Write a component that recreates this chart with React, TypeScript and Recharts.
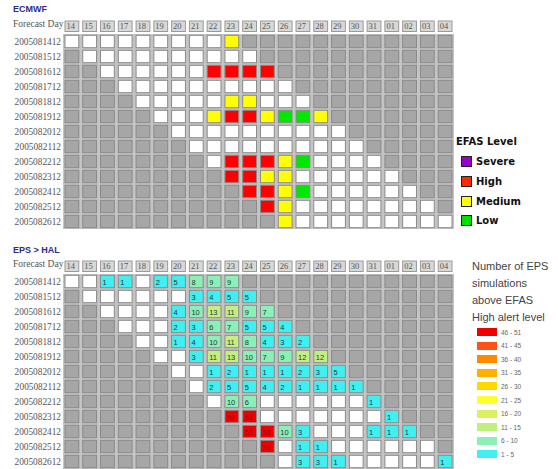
import { ScatterChart, Scatter, XAxis, YAxis, ReferenceArea } from "recharts";

const DAYS = ["14", "15", "16", "17", "18", "19", "20", "21", "22", "23", "24", "25", "26", "27", "28", "29", "30", "31", "01", "02", "03", "04"];
const RUNS = [
  "2005081412", "2005081512", "2005081612", "2005081712", "2005081812", "2005081912", "2005082012",
  "2005082112", "2005082212", "2005082312", "2005082412", "2005082512", "2005082612",
];

// ECMWF alert level over each run's 10 forecast days: 0 none, 1 low, 2 medium, 3 high
const ECMWF_LEVELS = [
  [0, 0, 0, 0, 0, 0, 0, 0, 0, 2],
  [0, 0, 0, 0, 0, 0, 0, 0, 0, 0],
  [0, 0, 0, 0, 0, 0, 3, 3, 3, 3],
  [0, 0, 0, 0, 0, 0, 0, 0, 0, 0],
  [0, 0, 0, 0, 0, 2, 2, 0, 0, 0],
  [0, 0, 0, 2, 3, 3, 2, 1, 1, 2],
  [0, 0, 0, 0, 0, 0, 0, 0, 0, 0],
  [0, 0, 0, 0, 0, 0, 0, 0, 0, 0],
  [0, 3, 3, 3, 2, 1, 0, 0, 0, 0],
  [3, 3, 2, 2, 0, 0, 0, 0, 0, 0],
  [3, 3, 2, 1, 0, 0, 0, 0, 0, 0],
  [3, 2, 0, 0, 0, 0, 0, 0, 0, 0],
  [2, 0, 0, 0, 0, 0, 0, 0, 0, 0],
];

// number of EPS members above the high alert level, same 10-day windows
const EPS_COUNTS = [
  [0, 0, 1, 1, 0, 2, 5, 8, 9, 9],
  [0, 0, 0, 0, 0, 0, 3, 4, 5, 5],
  [0, 0, 0, 0, 4, 10, 13, 11, 9, 7],
  [0, 0, 0, 2, 3, 6, 7, 5, 5, 4],
  [0, 0, 1, 4, 10, 11, 8, 4, 3, 2],
  [0, 0, 3, 11, 13, 10, 7, 9, 12, 12],
  [0, 0, 1, 2, 1, 1, 1, 2, 3, 5],
  [0, 2, 5, 5, 4, 2, 1, 1, 1, 1],
  [0, 10, 6, 0, 0, 0, 0, 0, 0, 1],
  [51, 51, 0, 0, 0, 0, 0, 0, 0, 1],
  [51, 51, 10, 3, 0, 0, 0, 1, 1, 1],
  [51, 0, 1, 1, 0, 0, 0, 0, 0, 0],
  [0, 3, 3, 1, 0, 0, 0, 0, 0, 1],
];

const LEVEL_NAMES = ["Severe", "High", "Medium", "Low"];
const LEVEL_COLORS = ["#9900cc", "#ff2a00", "#ffff00", "#00e000"];
const ECMWF_FILLS = ["#ffffff", "#00e800", "#ffff00", "#ff0000"];

const EPS_RANGES = ["46 - 51", "41 - 45", "36 - 40", "31 - 35", "26 - 30", "21 - 25", "16 - 20", "11 - 15", "6 - 10", "1 - 5"];
const EPS_MAX = [51, 45, 40, 35, 30, 25, 20, 15, 10, 5];
const EPS_COLORS = ["#ee0000", "#ff5018", "#ff8a00", "#ffb000", "#ffd800", "#ffff30", "#dcf060", "#c2f07e", "#8af0b6", "#40f0f0"];

const GRAY = "#a6a6a6";
const CELL_W = 13.8;
const CELL_H = 12.4;
const SERIF = "'Liberation Serif', serif";
const SANS = "'Liberation Sans', Arial, sans-serif";

const buildCells = (rows: number[][]) =>
  RUNS.flatMap((run, r) =>
    DAYS.map((day, c) => {
      const k = c - r;
      const inWindow = k >= 0 && k < rows[r].length;
      return { col: c, row: r, run, day, inWindow, value: inWindow ? rows[r][k] : 0 };
    })
  );

const ECMWF_CELLS = buildCells(ECMWF_LEVELS);
const EPS_CELLS = buildCells(EPS_COUNTS);

const epsColor = (v: number) => {
  let color = EPS_COLORS[0];
  EPS_MAX.forEach((m, i) => {
    if (v <= m) color = EPS_COLORS[i];
  });
  return color;
};

const EcmwfCell = (props: any) => {
  const { cx, cy, payload } = props;
  const fill = payload.inWindow ? ECMWF_FILLS[payload.value] : GRAY;
  return (
    <rect x={cx - CELL_W / 2} y={cy - CELL_H / 2} width={CELL_W} height={CELL_H} fill={fill} stroke="#8a8a8a" strokeWidth={1} />
  );
};

const EpsCell = (props: any) => {
  const { cx, cy, payload } = props;
  const v = payload.value;
  const fill = !payload.inWindow ? GRAY : v > 0 ? epsColor(v) : "#ffffff";
  return (
    <g>
      <rect x={cx - CELL_W / 2} y={cy - CELL_H / 2} width={CELL_W} height={CELL_H} fill={fill} stroke="#8a8a8a" strokeWidth={1} />
      {payload.inWindow && v > 0 && (
        <text x={cx - CELL_W / 2 + 2} y={cy + 3} fontSize={7.5} fontFamily={SANS} fill={v > 45 ? "#a00000" : "#333344"}>
          {v}
        </text>
      )}
    </g>
  );
};

const DayTick = (props: any) => {
  const { x, y, payload } = props;
  return (
    <g>
      <rect x={x - CELL_W / 2} y={y - 13} width={CELL_W} height={10.5} fill="#d8d8d8" stroke="#9a9a9a" />
      <text x={x - CELL_W / 2 + 1.5} y={y - 4.8} fontSize={8.5} fontFamily={SERIF} fill="#555">
        {DAYS[payload.value]}
      </text>
    </g>
  );
};

const RunTick = (props: any) => {
  const { x, y, payload } = props;
  return (
    <text x={x - 2} y={y + 3.2} textAnchor="end" fontSize={9.3} fontFamily={SERIF} fill="#555">
      {RUNS[payload.value]}
    </text>
  );
};

const Grid = ({ cells, shape }: { cells: any[]; shape: any }) => (
  <ScatterChart width={558} height={235} margin={{ top: 18, right: 104, bottom: 6, left: 0 }}>
    <XAxis
      type="number"
      dataKey="col"
      orientation="top"
      domain={[-0.5, DAYS.length - 0.5]}
      ticks={DAYS.map((d, i) => i)}
      interval={0}
      height={16}
      tickSize={0}
      tickMargin={0}
      axisLine={false}
      tickLine={false}
      tick={<DayTick />}
      allowDataOverflow
    />
    <YAxis
      type="number"
      dataKey="row"
      reversed
      domain={[-0.5, RUNS.length - 0.5]}
      ticks={RUNS.map((r, i) => i)}
      interval={0}
      width={63}
      tickSize={0}
      tickMargin={0}
      axisLine={false}
      tickLine={false}
      tick={<RunTick />}
      allowDataOverflow
    />
    <ReferenceArea x1={-0.5} x2={DAYS.length - 0.5} y1={-0.5} y2={RUNS.length - 0.5} fill="#c4c4c4" fillOpacity={1} stroke="none" />
    <Scatter data={cells} shape={shape} isAnimationActive={false} />
  </ScatterChart>
);

const abs = (left: number, top: number, extra: any = {}) => ({ position: "absolute" as const, left, top, whiteSpace: "nowrap" as const, ...extra });

export default function App() {
  return (
    <div style={{ position: "absolute", left: 0, top: 0, width: 558, height: 469, background: "#fff", overflow: "hidden" }}>
      <div style={abs(13, 4, { fontFamily: SANS, fontWeight: 700, fontSize: 9, color: "#2b2b8c" })}>ECMWF</div>
      <div style={abs(13, 19, { fontFamily: SERIF, fontSize: 9.5, color: "#555" })}>Forecast Day</div>
      <div style={abs(0, 0)}>
        <Grid cells={ECMWF_CELLS} shape={EcmwfCell} />
      </div>

      <div style={abs(13, 245, { fontFamily: SANS, fontWeight: 700, fontSize: 9, color: "#2b2b8c" })}>EPS &gt; HAL</div>
      <div style={abs(13, 259, { fontFamily: SERIF, fontSize: 9.5, color: "#555" })}>Forecast Day</div>
      <div style={abs(0, 240)}>
        <Grid cells={EPS_CELLS} shape={EpsCell} />
      </div>

      {/* EFAS level legend */}
      <div style={abs(456, 136, { fontFamily: "'DejaVu Sans', sans-serif", fontWeight: 700, fontSize: 10, color: "#111" })}>EFAS Level</div>
      {LEVEL_NAMES.map((name, i) => (
        <div key={name} style={abs(461, 156 + i * 19.8, { display: "flex", alignItems: "center", fontFamily: "'DejaVu Sans', sans-serif", fontWeight: 700, fontSize: 10, color: "#111" })}>
          <span style={{ display: "inline-block", width: 9, height: 9, background: LEVEL_COLORS[i], border: "1px solid #222", marginRight: 4 }} />
          {name}
        </div>
      ))}

      {/* EPS count legend */}
      <div style={abs(472, 258, { fontFamily: SANS, fontSize: 11, lineHeight: "17px", color: "#444" })}>
        Number of EPS
        <br />
        simulations
        <br />
        above EFAS
        <br />
        High alert level
      </div>
      {EPS_RANGES.map((label, i) => (
        <div key={label} style={abs(477, 328 + i * 13.6, { display: "flex", alignItems: "center", fontFamily: SANS, fontSize: 6.5, color: "#666" })}>
          <span style={{ display: "inline-block", width: 20, height: 8, background: EPS_COLORS[i], marginRight: 4 }} />
          {label}
        </div>
      ))}
    </div>
  );
}
